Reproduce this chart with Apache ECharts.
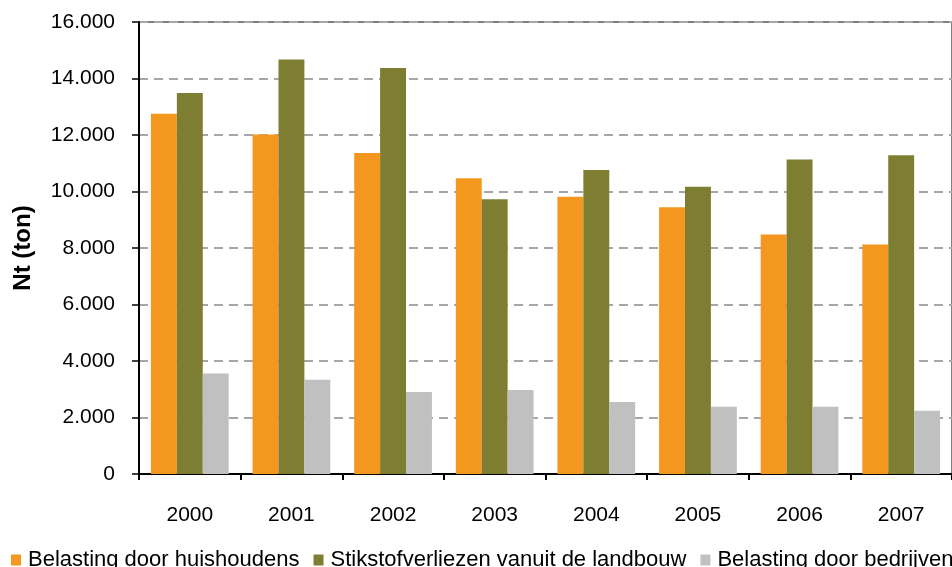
<!DOCTYPE html>
<html>
<head>
<meta charset="utf-8">
<script src="https://cdn.jsdelivr.net/npm/echarts@6/dist/echarts.min.js"></script>
<style>html,body{margin:0;padding:0;background:#fff;}#c{width:952px;height:567px;}</style>
</head>
<body>
<div id="c"></div>
<script>
var years = ['2000','2001','2002','2003','2004','2005','2006','2007'];
var huishoudens = [12750, 12020, 11360, 10470, 9810, 9440, 8480, 8120];
var landbouw = [13490, 14670, 14370, 9730, 10760, 10170, 11130, 11280];
var bedrijven = [3560, 3340, 2900, 2970, 2550, 2380, 2380, 2240];
var seriesNames = ['Belasting door huishoudens', 'Stikstofverliezen vanuit de landbouw', 'Belasting door bedrijven'];
var yTicks = [0, 2000, 4000, 6000, 8000, 10000, 12000, 14000, 16000];

function fmt(v) { return String(v).replace(/\B(?=(\d{3})+(?!\d))/g, '.'); }
var FONT = '"Liberation Sans", Arial, sans-serif';
var chart = echarts.init(document.getElementById('c'));
chart.setOption({
  animation: false,
  textStyle: { fontFamily: FONT },
  grid: { left: 139, top: 22, bottom: 93, right: -14, show: true, borderColor: '#808080', borderWidth: 2 },
  legend: {
    left: 11, top: 549, width: 1500, padding: 0, itemWidth: 10, itemHeight: 11, itemGap: 14, icon: 'rect',
    textStyle: { fontFamily: FONT, fontSize: 22, lineHeight: 22, color: '#000', padding: [0, 0, 0, 2] },
    data: seriesNames
  },
  xAxis: {
    type: 'category', data: years,
    axisLine: { lineStyle: { color: '#000', width: 2 } },
    axisTick: { show: true, length: 6, lineStyle: { color: '#000', width: 2 } },
    axisLabel: { color: '#000', fontSize: 21, margin: 31, fontFamily: FONT }
  },
  yAxis: {
    type: 'value', min: yTicks[0], max: yTicks[yTicks.length - 1], interval: yTicks[1] - yTicks[0],
    name: 'Nt (ton)', nameLocation: 'middle', nameGap: 104,
    nameTextStyle: { fontSize: 24, fontWeight: 'bold', color: '#000', fontFamily: FONT },
    axisLine: { show: true, lineStyle: { color: '#000', width: 2 } },
    axisTick: { show: true, length: 7, lineStyle: { color: '#000', width: 1.5 } },
    axisLabel: { color: '#000', fontSize: 21, margin: 24, fontFamily: FONT, formatter: fmt },
    splitLine: { lineStyle: { color: '#a6a6a6', width: 2, type: [9, 6] } }
  },
  series: [
    { name: seriesNames[0], type: 'bar', data: huishoudens, barGap: '0%', barCategoryGap: '23.5%', itemStyle: { color: '#F4971F' } },
    { name: seriesNames[1], type: 'bar', data: landbouw, barGap: '0%', barCategoryGap: '23.5%', itemStyle: { color: '#7E7E33' } },
    { name: seriesNames[2], type: 'bar', data: bedrijven, barGap: '0%', barCategoryGap: '23.5%', itemStyle: { color: '#C0C0C0' } }
  ]
});
</script>
</body>
</html>
